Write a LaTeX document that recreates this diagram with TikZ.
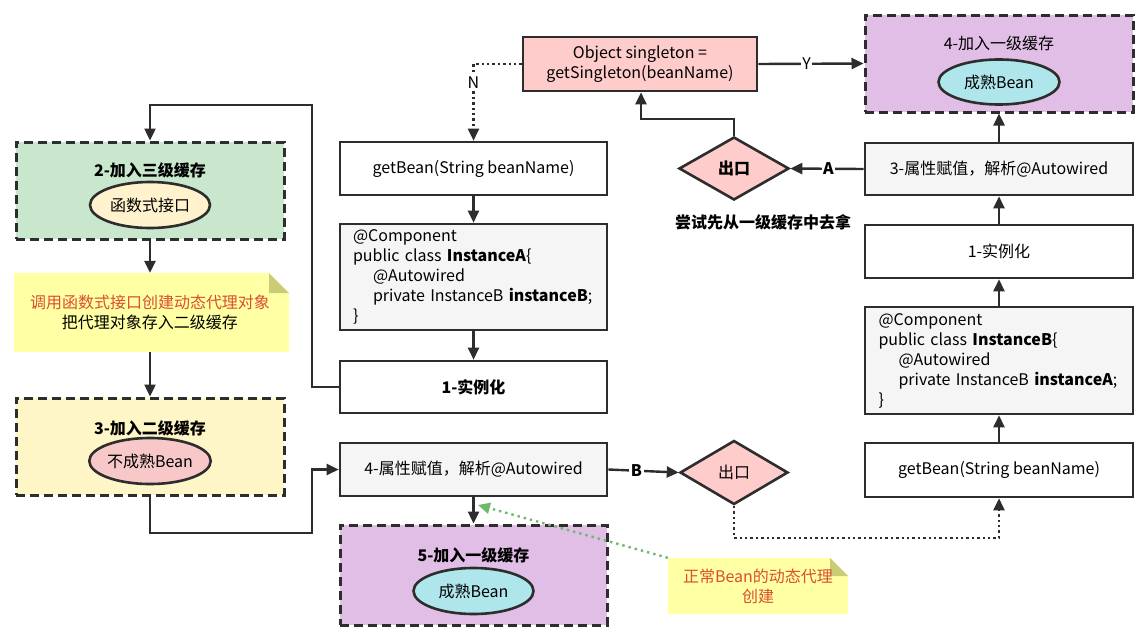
\documentclass[tikz,border=0pt]{standalone}
\usepackage{fontspec}
\setmainfont{Noto Sans CJK SC}
\usetikzlibrary{arrows.meta,shapes.geometric,calc}
\definecolor{lc}{RGB}{45,45,45}
\definecolor{greenf}{RGB}{200,231,205}
\definecolor{yellowf}{RGB}{255,246,200}
\definecolor{notef}{RGB}{255,255,163}
\definecolor{foldf}{RGB}{204,204,120}
\definecolor{pinkf}{RGB}{255,204,204}
\definecolor{pinke}{RGB}{248,200,200}
\definecolor{purplef}{RGB}{225,190,230}
\definecolor{cyanf}{RGB}{175,230,236}
\definecolor{creamf}{RGB}{255,242,204}
\definecolor{grayf}{RGB}{245,245,245}
\definecolor{redt}{RGB}{218,78,52}
\definecolor{greenarr}{RGB}{110,185,110}
\newcommand{\fs}{\fontsize{16pt}{20pt}\selectfont}
\tikzset{
  box/.style={draw=lc, line width=2.6pt, minimum width=267pt, minimum height=53pt, inner sep=0pt, font=\fs, align=center},
  dbox/.style={draw=lc, line width=3pt, dash pattern=on 9pt off 5pt, minimum width=268pt, minimum height=97pt, inner sep=0pt},
  ell/.style={ellipse, draw=lc, line width=2.6pt, minimum width=120pt, minimum height=46pt, inner sep=0pt, font=\fs},
  dia/.style={diamond, draw=lc, line width=2.6pt, fill=pinkf, minimum width=108pt, minimum height=64pt, inner sep=0pt, font=\fs},
  ttl/.style={font=\fs, inner sep=0pt},
  arr/.style={draw=lc, line width=2.4pt, -{Triangle[length=12pt,width=11pt]}},
  dotarr/.style={arr, dash pattern=on 2.4pt off 3pt},
  lbl/.style={fill=white, inner sep=1.5pt, font=\fs},
  codebox/.style={box, fill=grayf, minimum height=106pt, text width=241pt, align=left},
}
\begin{document}
\begin{tikzpicture}[x=1pt,y=-1pt]
\useasboundingbox (0,0) rectangle (1148,637);
\fill[white] (0,0) rectangle (1148,637);

% ---------------- left column ----------------
\node[dbox, fill=greenf] (green) at (150,190.5) {};
\node[ttl] (gtitle) at (150,170) {\bfseries 2-加入三级缓存};
\node[ell, fill=creamf] (gell) at (150,205) {函数式接口};

\fill[notef] (14,273) -- (269,273) -- (289,293) -- (289,352) -- (14,352) -- cycle;
\fill[foldf] (269,273) -- (269,293) -- (289,293) -- cycle;
\node[minimum width=275pt, minimum height=79pt, inner sep=0pt, align=center, font=\fs] (note1) at (150,312.5)
  {\textcolor{redt}{调用函数式接口创建动态代理对象}\\把代理对象存入二级缓存};

\node[dbox, fill=yellowf] (yellow) at (150,446.5) {};
\node[ttl] (ytitle) at (150,428) {\bfseries 3-加入二级缓存};
\node[ell, fill=pinke] (yell) at (150,461) {不成熟Bean};

% ---------------- middle column ----------------
\node[box, fill=pinkf, minimum width=234pt, minimum height=54pt] (single) at (640,64) {Object singleton =\\getSingleton(beanName)};
\node[box] (getA) at (473.5,168.5) {getBean(String beanName)};
\node[codebox] (instA) at (473.5,277) {@Component\\public class \textbf{InstanceA}\{\\\hspace*{20pt}@Autowired\\\hspace*{20pt}private InstanceB \textbf{instanceB};\\\}};
\node[box, minimum height=52pt] (newA) at (473.5,387) {\bfseries 1-实例化};
\node[box, fill=grayf] (attrA) at (473.5,469.5) {4-属性赋值，解析@Autowired};
\node[dbox, fill=purplef, minimum width=267pt, minimum height=100pt] (purpA) at (473.5,575) {};
\node[ttl] (patitle) at (473.5,555) {\bfseries 5-加入一级缓存};
\node[ell, fill=cyanf] (paell) at (473.5,591) {成熟Bean};

\node[dia] (exitB) at (734,472.5) {出口};
\fill[notef] (668,558) -- (830,558) -- (848,576) -- (848,614) -- (668,614) -- cycle;
\fill[foldf] (830,558) -- (830,576) -- (848,576) -- cycle;
\node[minimum width=180pt, minimum height=56pt, inner sep=0pt, align=center, font=\fs, text=redt] (note2) at (758,586)
  {正常Bean的动态代理\\创建};

% ---------------- right column ----------------
\node[dia, minimum width=110pt, minimum height=63pt] (exitA) at (734,168.5) {\bfseries 出口};
\node[ttl] (tryl) at (763,222) {\bfseries 尝试先从一级缓存中去拿};

\node[dbox, fill=purplef] (purpB) at (999,63.5) {};
\node[ttl] (pbtitle) at (999,43) {4-加入一级缓存};
\node[ell, fill=cyanf, minimum width=121pt, minimum height=45pt] (pbell) at (999,82) {成熟Bean};
\node[box, fill=grayf, minimum width=268pt, minimum height=52pt] (attrB) at (999,169) {3-属性赋值，解析@Autowired};
\node[box, minimum width=268pt] (newB) at (999,251.5) {1-实例化};
\node[codebox, minimum width=268pt, minimum height=107pt] (instB) at (999,360.5) {@Component\\public class \textbf{InstanceB}\{\\\hspace*{20pt}@Autowired\\\hspace*{20pt}private InstanceB \textbf{instanceA};\\\}};
\node[box, minimum width=268pt, minimum height=54pt] (getB) at (999,470) {getBean(String beanName)};

% ---------------- connectors ----------------
\draw[dotarr] (single.west) -| (getA.north) node[lbl, pos=0.62] {N};
\draw[arr] (single.east) -- node[lbl, pos=0.46] {Y} (purpB.west);
\draw[arr] (getA.south) -- (instA.north);
\draw[arr] (instA.south) -- (newA.north);
\coordinate (c1) at (312,105);
\draw[arr] (newA.west) -| (c1) -| (green.north);
\draw[arr] (green.south) -- (note1.north);
\draw[arr] (note1.south) -- (yellow.north);
\coordinate (c2) at (312,533);
\draw[arr] (yellow.south) |- (c2) |- (attrA.west);
\draw[arr] (attrA.east) -- node[lbl, pos=0.4] {\bfseries B} (exitB.west);
\draw[arr] (attrA.south) -- (purpA.north);
\coordinate (c3) at (734,538);
\draw[dotarr] (exitB.south) -- (c3) -| (getB.south);
\draw[arr] (getB.north) -- (instB.south);
\draw[arr] (instB.north) -- (newB.south);
\draw[arr] (newB.north) -- (attrB.south);
\draw[arr] (attrB.north) -- (purpB.south);
\draw[arr] (attrB.west) -- node[lbl, pos=0.48] {\bfseries A} (exitA.east);
\coordinate (c4) at (641,119);
\draw[arr] (exitA.north) |- (c4) -- (single.south -| c4);
\draw[draw=greenarr, line width=2.4pt, dash pattern=on 2.4pt off 4pt, -{Triangle[length=12pt,width=11pt]}] (note2.north west) -- (478,505);
\end{tikzpicture}
\end{document}
